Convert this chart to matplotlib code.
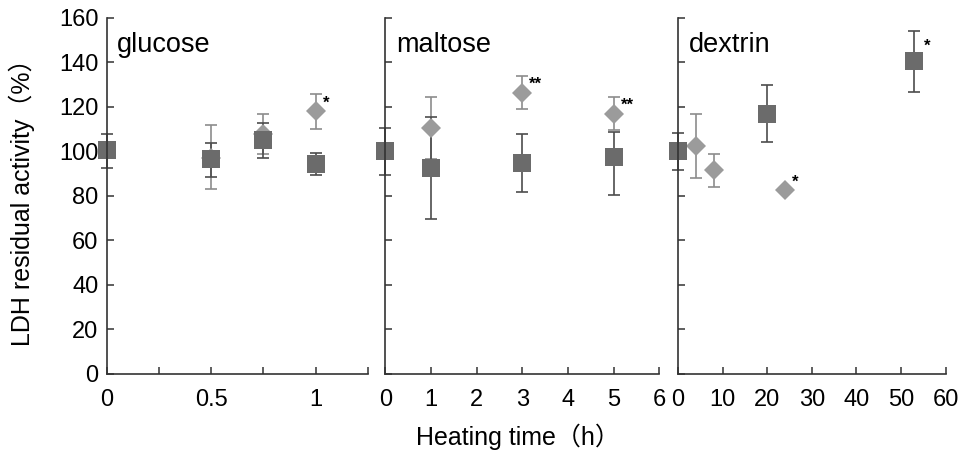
import numpy as np
import matplotlib.pyplot as plt

plt.rcParams['font.family'] = ['Liberation Sans', 'Noto Sans CJK JP', 'DejaVu Sans']

# panel names
panels = ["glucose", "maltose", "dextrin"]

# squares (dark)
sq_t = [[0, 0.5, 0.75, 1], [0, 1, 3, 5], [0, 20, 53]]
sq_v = [[100.5, 96.5, 105, 94.4], [100, 92.5, 95, 97.5], [100, 117, 140.5]]
sq_lo = [[8, 8, 8, 5], [10.5, 23, 13, 17], [8.5, 12.7, 13.7]]
sq_hi = [[7.5, 7.3, 8, 5], [10.5, 23, 13, 11.3], [8.5, 12.7, 13.7]]
sq_sig = [["", "", "", ""], ["", "", "", ""], ["", "", "*"]]

# diamonds (light)
dm_t = [[0.5, 0.75, 1], [1, 3, 5], [4, 8, 24]]
dm_v = [[97, 108, 118], [110.5, 126.5, 117], [102.5, 91.5, 82.5]]
dm_lo = [[14, 9, 8], [14, 7.5, 7.5], [14.5, 7.5, 0]]
dm_hi = [[15, 9, 8], [14, 7.5, 7.5], [14.5, 7.5, 0]]
dm_sig = [["", "", "*"], ["", "**", "**"], ["", "", "*"]]

xlims = [(0, 1.25), (0, 6), (0, 60)]
xticks = [[0, 0.25, 0.5, 0.75, 1, 1.25], list(range(0, 7)), list(range(0, 61, 10))]
xticklabels = [["0", "", "0.5", "", "1", ""],
               [str(v) for v in range(0, 7)],
               [str(v) for v in range(0, 61, 10)]]
yticks = list(range(0, 161, 20))

dark = "#6b6b6b"
light = "#9b9b9b"

fig = plt.figure(figsize=(9.63, 4.5), dpi=100)
rects = [(0.111, 0.169, 0.271, 0.791),
         (0.400, 0.169, 0.2845, 0.791),
         (0.704, 0.169, 0.278, 0.791)]

for i, r in enumerate(rects):
    ax = fig.add_axes(r)
    ax.errorbar(dm_t[i], dm_v[i], yerr=[dm_lo[i], dm_hi[i]], fmt="none",
                ecolor="#8c8c8c", elinewidth=1.2, capsize=4, capthick=1.2, clip_on=False)
    ax.errorbar(sq_t[i], sq_v[i], yerr=[sq_lo[i], sq_hi[i]], fmt="none",
                ecolor="#4d4d4d", elinewidth=1.2, capsize=4, capthick=1.2, clip_on=False)
    ax.plot(dm_t[i], dm_v[i], "D", color=light, markersize=10, markeredgewidth=0, clip_on=False)
    ax.plot(sq_t[i], sq_v[i], "s", color=dark, markersize=13.5, markeredgewidth=0, clip_on=False)

    # significance marks
    for t, v, s in zip(dm_t[i], dm_v[i], dm_sig[i]):
        if s:
            ax.annotate(s, (t, v), xytext=(5, 6), textcoords="offset points",
                        ha="left", va="center", fontsize=12, fontweight="bold")
    for t, v, s in zip(sq_t[i], sq_v[i], sq_sig[i]):
        if s:
            ax.annotate(s, (t, v), xytext=(7, 11), textcoords="offset points",
                        ha="left", va="center", fontsize=12, fontweight="bold")

    ax.set_xlim(*xlims[i])
    ax.set_ylim(0, 160)
    ax.set_xticks(xticks[i])
    ax.set_xticklabels(xticklabels[i], fontsize=17)
    ax.set_yticks(yticks)
    if i == 0:
        ax.set_yticklabels([str(v) for v in yticks], fontsize=17)
        ax.set_ylabel("LDH residual activity（%）", fontsize=18, labelpad=17)
    else:
        ax.set_yticklabels([])
    for sp in ["top", "right"]:
        ax.spines[sp].set_visible(False)
    for sp in ["left", "bottom"]:
        ax.spines[sp].set_linewidth(1.2)
        ax.spines[sp].set_color("#333333")
    ax.tick_params(direction="in", length=5, width=1.1, color="#333333")
    ax.tick_params(axis="x", pad=11)
    ax.tick_params(axis="y", pad=6)
    ax.text(0.04, 0.905, panels[i], transform=ax.transAxes, fontsize=19.5,
            ha="left", va="baseline")

fig.text(0.538, 0.012, "Heating time（h）", fontsize=18, ha="center", va="baseline")

plt.savefig("out.png", dpi=100)
